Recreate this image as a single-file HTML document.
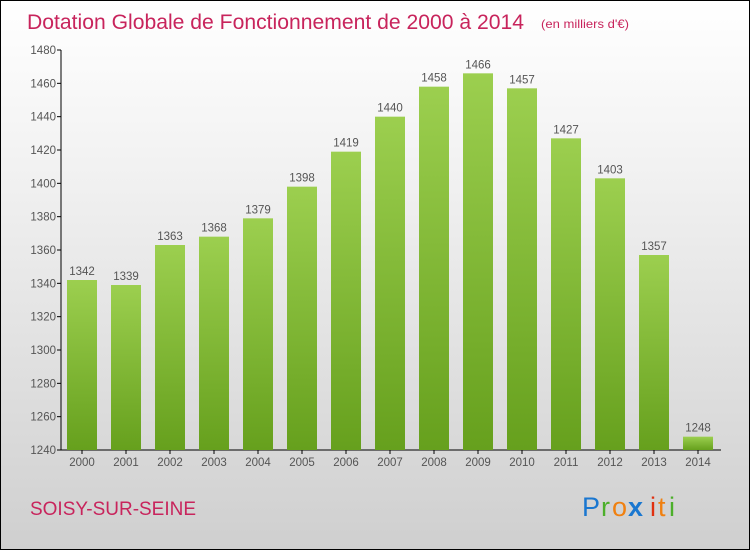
<!DOCTYPE html>
<html><head><meta charset="utf-8"><style>
body{margin:0;width:750px;height:550px;overflow:hidden;font-family:"Liberation Sans",sans-serif}
#frame{position:absolute;left:0;top:0;width:748px;height:548px;border:1px solid #000;background:linear-gradient(#ffffff,#f2f2f2 30%,#cfcfcf)}
</style></head><body>
<div id="frame">
<svg width="748" height="548" viewBox="1 1 748 548" style="position:absolute;left:0;top:0" id="chart">
<defs><linearGradient id="g" x1="0" y1="0" x2="0" y2="1"><stop offset="0" stop-color="#9ccf4f"/><stop offset="1" stop-color="#66a01d"/></linearGradient></defs>
<text x="27" y="29" font-size="21" fill="#c8245c" textLength="497" lengthAdjust="spacingAndGlyphs">Dotation Globale de Fonctionnement de 2000 à 2014</text>
<text x="541" y="28" font-size="12" fill="#c8245c" textLength="88" lengthAdjust="spacingAndGlyphs">(en milliers d'€)</text>
<text x="30" y="515" font-size="19" fill="#c8245c" textLength="166" lengthAdjust="spacingAndGlyphs">SOISY-SUR-SEINE</text>
<g font-size="27">
<text x="582" y="516" fill="#1a77d0">P</text><text x="601" y="516" fill="#4caf2a">r</text><text x="612" y="516" fill="#f08010">o</text><text x="628" y="516" fill="#1a77d0" font-weight="bold">x</text><text x="650" y="516" fill="#e03010">i</text><text x="658" y="516" fill="#f08010">t</text><text x="669" y="516" fill="#4caf2a">i</text>
</g>
<g id="plot"></g>
</svg>
</div>
<script>
const years=["2000","2001","2002","2003","2004","2005","2006","2007","2008","2009","2010","2011","2012","2013","2014"];
const values=[1342,1339,1363,1368,1379,1398,1419,1440,1458,1466,1457,1427,1403,1357,1248];
const yTicks=[1240,1260,1280,1300,1320,1340,1360,1380,1400,1420,1440,1460,1480];
const NS="http://www.w3.org/2000/svg";
const g=document.getElementById('plot');
const y=v=>450-(v-1240)*400/240;
const x=i=>67+i*44;
function mk(t,a){const e=document.createElementNS(NS,t);for(const k in a)e.setAttribute(k,a[k]);g.appendChild(e);return e;}
let ax=mk('line',{x1:61,y1:50,x2:61,y2:450,stroke:'#000'});


let xa=mk('line',{x1:61,y1:450,x2:721,y2:450,stroke:'#000'});


yTicks.forEach(v=>{
 const t=mk('line',{x1:57,y1:y(v),x2:61,y2:y(v),stroke:'#000'});
 
 
 const l=mk('text',{x:56,y:y(v)+4,'font-size':11.5,fill:'#555','text-anchor':'end'});
 l.textContent=v;
 
 
});
years.forEach((yr,i)=>{
 const b=mk('rect',{x:x(i),y:y(values[i]),width:30,height:450-y(values[i]),fill:'url(#g)'});
 
 
 const t=mk('line',{x1:x(i)+15,y1:450,x2:x(i)+15,y2:454,stroke:'#000'});
 
 
 const l=mk('text',{x:x(i)+15,y:466,'font-size':11.5,fill:'#555','text-anchor':'middle'});
 l.textContent=yr;
 
 
 const v=mk('text',{x:x(i)+15,y:y(values[i])-5,'font-size':11.5,fill:'#555','text-anchor':'middle'});
 v.textContent=values[i];
 
 
});
</script>
</body></html>
